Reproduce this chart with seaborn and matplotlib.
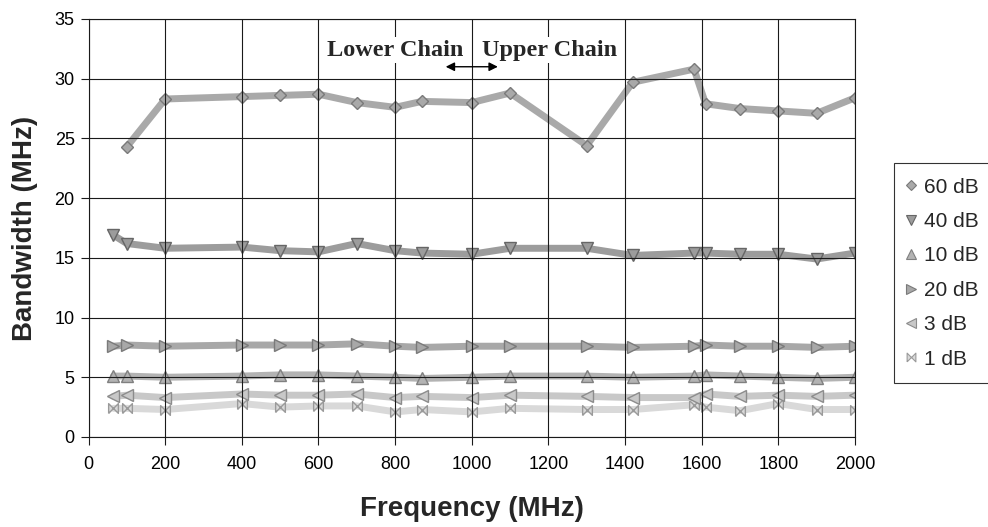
import numpy as np
import pandas as pd
import matplotlib
matplotlib.use("Agg")
import matplotlib.pyplot as plt
import seaborn as sns
from matplotlib.lines import Line2D

# ---- data ----
freq_60 = [100, 200, 400, 500, 600, 700, 800, 870, 1000, 1100, 1300, 1420, 1580, 1610, 1700, 1800, 1900, 2000]
bw_60 = [24.3, 28.3, 28.5, 28.6, 28.7, 28.0, 27.6, 28.1, 28.0, 28.8, 24.4, 29.7, 30.8, 27.9, 27.5, 27.3, 27.1, 28.4]

freq = [65, 100, 200, 400, 500, 600, 700, 800, 870, 1000, 1100, 1300, 1420, 1580, 1610, 1700, 1800, 1900, 2000]
bw_40 = [16.9, 16.2, 15.8, 15.9, 15.6, 15.5, 16.2, 15.6, 15.4, 15.3, 15.8, 15.8, 15.2, 15.4, 15.4, 15.3, 15.3, 14.9, 15.4]
bw_10 = [5.1, 5.1, 5.0, 5.1, 5.2, 5.2, 5.1, 5.0, 4.9, 5.0, 5.1, 5.1, 5.0, 5.1, 5.2, 5.1, 5.0, 4.9, 5.0]
bw_20 = [7.6, 7.7, 7.6, 7.7, 7.7, 7.7, 7.8, 7.6, 7.5, 7.6, 7.6, 7.6, 7.5, 7.6, 7.7, 7.6, 7.6, 7.5, 7.6]
bw_3 = [3.4, 3.5, 3.3, 3.6, 3.5, 3.5, 3.6, 3.3, 3.4, 3.3, 3.5, 3.4, 3.3, 3.3, 3.6, 3.4, 3.5, 3.4, 3.5]
bw_1 = [2.4, 2.4, 2.3, 2.8, 2.5, 2.6, 2.6, 2.1, 2.3, 2.1, 2.4, 2.3, 2.3, 2.7, 2.5, 2.2, 2.8, 2.3, 2.3]

series_names = ["60 dB", "40 dB", "10 dB", "20 dB", "3 dB", "1 dB"]
x_ticks = [0, 200, 400, 600, 800, 1000, 1200, 1400, 1600, 1800, 2000]
y_ticks = [0, 5, 10, 15, 20, 25, 30, 35]

bowtie = [(-1, -1), (1, 1), (1, -1), (-1, 1), (-1, -1)]
styles = {
    "60 dB": dict(color="#a9a9a9", edge="#7a7a7a", marker="D", ms=6),
    "40 dB": dict(color="#9c9c9c", edge="#666666", marker="v", ms=8),
    "10 dB": dict(color="#b3b3b3", edge="#808080", marker="^", ms=8),
    "20 dB": dict(color="#a8a8a8", edge="#7a7a7a", marker=">", ms=8),
    "3 dB": dict(color="#c8c8c8", edge="#8c8c8c", marker="<", ms=8),
    "1 dB": dict(color="#d9d9d9", edge="#9a9a9a", marker=bowtie, ms=7),
}

frames = [pd.DataFrame({"Frequency": freq_60, "Bandwidth": bw_60, "Series": "60 dB"})]
for name, vals in [("40 dB", bw_40), ("10 dB", bw_10), ("20 dB", bw_20), ("3 dB", bw_3), ("1 dB", bw_1)]:
    frames.append(pd.DataFrame({"Frequency": freq, "Bandwidth": vals, "Series": name}))
df = pd.concat(frames, ignore_index=True)

sns.set_theme(style="white")
plt.rcParams["font.family"] = ["Liberation Sans", "DejaVu Sans"]

fig = plt.figure(figsize=(9.88, 5.27), dpi=100)
ax = fig.add_axes([0.0896, 0.1708, 0.7758, 0.7932])

for name in ["1 dB", "3 dB", "10 dB", "20 dB", "40 dB", "60 dB"]:
    st = styles[name]
    sub = df[df["Series"] == name]
    sns.lineplot(data=sub, x="Frequency", y="Bandwidth", ax=ax, color=st["color"],
                 linewidth=5, marker=st["marker"], markersize=st["ms"],
                 markerfacecolor=st["color"], markeredgecolor=st["edge"],
                 markeredgewidth=1.0, legend=False, estimator=None, sort=False)

ax.set_xlim(0, 2000)
ax.set_ylim(0, 35)
ax.set_xticks(x_ticks)
ax.set_yticks(y_ticks)
ax.set_axisbelow(False)
ax.grid(True, color="#1a1a1a", linewidth=0.8)
for sp in ax.spines.values():
    sp.set_color("#1a1a1a")
    sp.set_linewidth(0.8)
ax.tick_params(axis="both", direction="out", length=6, width=0.8, color="#1a1a1a",
               labelsize=13, labelcolor="black", bottom=True, left=True)
ax.tick_params(axis="x", pad=8)
ax.tick_params(axis="y", pad=4)

ax.set_xlabel("Frequency (MHz)", fontsize=20, fontweight="bold", labelpad=16)
ax.set_ylabel("Bandwidth (MHz)", fontsize=20, fontweight="bold", labelpad=12)

ax.text(979, 32.4, "Lower Chain", ha="right", va="center", fontsize=17.5,
        fontweight="bold", family=["Liberation Serif", "DejaVu Serif"],
        bbox=dict(facecolor="white", edgecolor="none", pad=1.5), zorder=4)
ax.text(1026, 32.4, "Upper Chain", ha="left", va="center", fontsize=17.5,
        fontweight="bold", family=["Liberation Serif", "DejaVu Serif"],
        bbox=dict(facecolor="white", edgecolor="none", pad=1.5), zorder=4)
ax.annotate("", xy=(932, 31.0), xytext=(1068, 31.0),
            arrowprops=dict(arrowstyle="<|-|>", color="black", lw=1.0,
                            mutation_scale=13, shrinkA=0, shrinkB=0), zorder=5)

handles = []
for name in series_names:
    st = styles[name]
    handles.append(Line2D([], [], linestyle="none", marker=st["marker"],
                          markersize=st["ms"] * 0.9, markerfacecolor=st["color"],
                          markeredgecolor=st["edge"], markeredgewidth=0.8, label=name))
leg = fig.legend(handles=handles, loc="upper left", bbox_to_anchor=(894 / 988, 1 - 163 / 527),
                 frameon=True, fancybox=False, fontsize=15, handlelength=0.2,
                 handletextpad=0.55, labelspacing=0.74, borderpad=0.7, borderaxespad=0)
leg.get_frame().set_edgecolor("black")
leg.get_frame().set_linewidth(0.8)

fig.savefig("out.png", dpi=100)
